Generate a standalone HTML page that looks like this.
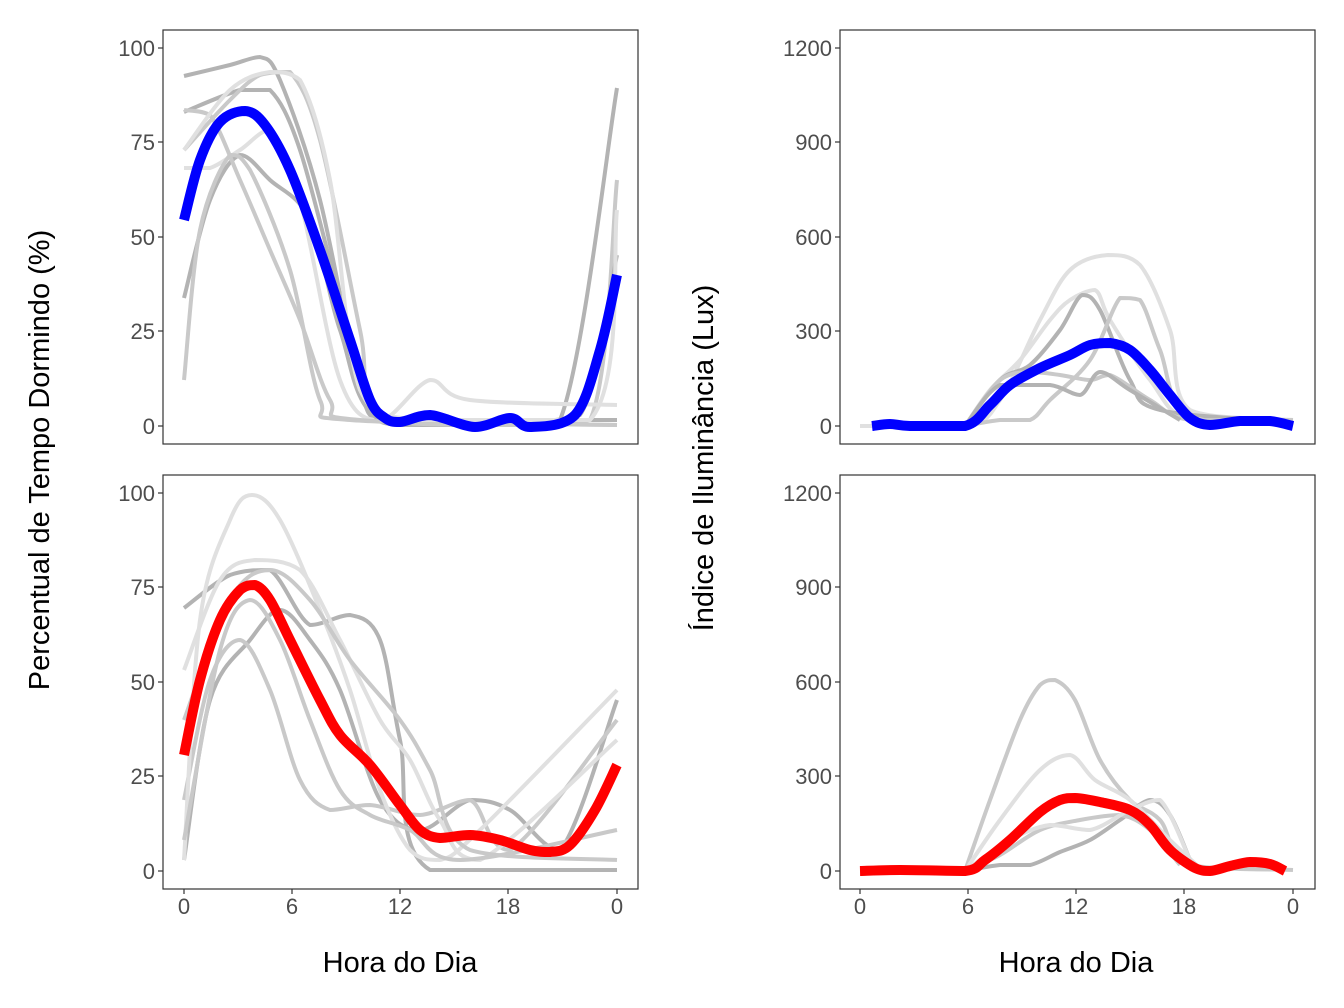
<!DOCTYPE html>
<html><head><meta charset="utf-8"><style>
html,body{margin:0;padding:0;background:#fff}
svg{display:block}
text{font-family:"Liberation Sans",sans-serif}
.tk{font-size:22px;fill:#4d4d4d}
.g{fill:none;stroke-width:4;stroke-linejoin:round;stroke-linecap:butt}
.a{stroke:#b3b3b3}.b{stroke:#c9c9c9}.c{stroke:#e0e0e0}
.m{fill:none;stroke-width:10;stroke-linejoin:round}
.box{fill:none;stroke:#333;stroke-width:1.2}
.tick{stroke:#333;stroke-width:1.2}
</style></head><body>
<svg id="s" width="1344" height="1008" viewBox="0 0 1344 1008">
<!-- TL -->
<g>
<polyline class="g a" points="184,76 230,65 260,57 280,80 320,200 360,390 380,420 430,420 617,420"/>
<polyline class="g a" points="184,112 240,90 270,90 300,150 340,300 370,410 400,425 480,425 560,420 617,88"/>
<polyline class="g b" points="184,150 230,100 260,75 290,72 320,140 360,330 380,420 500,425 590,420 617,180"/>
<polyline class="g c" points="184,168 210,168 240,150 270,130 300,200 340,380 380,420 430,380 470,400 617,405"/>
<polyline class="g a" points="184,298 210,200 240,155 270,180 310,220 340,330 380,420 500,422 580,415 617,255"/>
<polyline class="g b" points="184,380 200,230 230,155 250,170 290,270 320,400 350,420 617,425"/>
<polyline class="g b" points="184,110 210,115 240,180 270,250 300,320 330,400 360,420 617,425"/>
<polyline class="g c" points="184,150 230,90 270,72 300,80 330,180 360,390 420,420 590,420 617,210"/>
<polyline class="m" stroke="#0000ff" points="184,220 200,160 220,122 245,111 265,125 290,170 320,250 350,340 370,400 385,418 400,422 430,415 475,427 510,418 530,427 575,415 600,350 617,275"/>
<rect class="box" x="163" y="30" width="475" height="414"/>
</g>
<!-- BL -->
<g>
<polyline class="g a" points="184,608 230,575 270,570 310,625 350,615 380,640 400,740 430,870 617,870"/>
<polyline class="g a" points="184,860 210,700 250,640 280,610 310,640 340,690 380,800 420,830 470,800 510,810 560,850 617,700"/>
<polyline class="g b" points="184,800 210,680 240,640 270,690 300,780 330,810 370,805 420,815 470,800 510,850 617,720"/>
<polyline class="g c" points="184,860 200,620 230,520 252,495 280,520 320,610 350,690 380,790 410,850 440,860 480,830 617,690"/>
<polyline class="g c" points="184,670 220,580 255,560 300,570 340,640 380,720 410,760 440,820 480,860 617,740"/>
<polyline class="g b" points="184,840 220,650 250,600 280,640 310,720 340,790 370,815 410,830 460,860 617,830"/>
<polyline class="g b" points="184,720 230,600 270,570 310,600 350,660 400,720 430,770 470,850 617,860"/>
<polyline class="m" stroke="#ff0000" points="184,755 200,680 220,620 240,590 255,585 270,600 290,640 320,700 340,735 370,765 400,805 420,830 440,838 470,835 500,840 530,850 550,852 570,845 595,810 617,765"/>
<rect class="box" x="163" y="475" width="475" height="414"/>
</g>
<!-- TR -->
<g>
<polyline class="g c" points="860,426 965,426 1000,400 1040,320 1070,270 1108,255 1140,265 1170,330 1190,410 1293,420"/>
<polyline class="g c" points="965,426 990,390 1020,360 1050,320 1070,300 1095,290 1110,320 1150,380 1190,420 1293,420"/>
<polyline class="g a" points="965,426 1000,380 1030,365 1060,330 1082,295 1100,310 1130,380 1160,410 1293,422"/>
<polyline class="g b" points="965,426 1000,420 1030,420 1050,400 1090,360 1120,298 1140,300 1160,350 1190,420 1293,422"/>
<polyline class="g b" points="965,426 1000,380 1030,372 1060,375 1090,380 1110,375 1150,400 1190,420 1293,420"/>
<polyline class="g a" points="965,426 1000,385 1050,385 1080,395 1100,372 1130,390 1180,420"/>
<polyline class="m" stroke="#0000ff" points="872,426 890,424 910,426 965,426 990,405 1010,385 1040,368 1070,355 1090,345 1110,343 1130,350 1150,370 1170,395 1190,418 1210,425 1240,421 1270,421 1293,426"/>
<rect class="box" x="840" y="30" width="475" height="414"/>
</g>
<!-- BR -->
<g>
<polyline class="g b" points="965,871 990,800 1020,720 1040,685 1055,680 1075,700 1100,760 1130,800 1160,820 1190,865 1293,870"/>
<polyline class="g c" points="965,871 1000,820 1040,770 1070,755 1095,780 1130,800 1170,840 1200,868"/>
<polyline class="g a" points="965,871 1000,865 1030,865 1060,852 1090,840 1120,820 1150,800 1170,815 1190,860"/>
<polyline class="g b" points="965,871 1000,855 1040,830 1080,820 1120,815 1150,830 1180,865"/>
<polyline class="g c" points="965,871 1010,840 1050,825 1090,830 1130,810 1160,800 1190,860"/>
<polyline class="m" stroke="#ff0000" points="860,871 900,870 965,871 985,860 1010,840 1040,812 1060,800 1075,798 1100,802 1130,810 1150,825 1170,850 1195,868 1210,871 1230,866 1250,862 1270,864 1285,871"/>
<rect class="box" x="840" y="475" width="475" height="414"/>
</g>
<g class="tick">
<line x1="158" y1="48" x2="163" y2="48"/><line x1="158" y1="142" x2="163" y2="142"/><line x1="158" y1="237" x2="163" y2="237"/><line x1="158" y1="331" x2="163" y2="331"/><line x1="158" y1="426" x2="163" y2="426"/>
<line x1="158" y1="493" x2="163" y2="493"/><line x1="158" y1="587" x2="163" y2="587"/><line x1="158" y1="682" x2="163" y2="682"/><line x1="158" y1="776" x2="163" y2="776"/><line x1="158" y1="871" x2="163" y2="871"/>
<line x1="835" y1="48" x2="840" y2="48"/><line x1="835" y1="142" x2="840" y2="142"/><line x1="835" y1="237" x2="840" y2="237"/><line x1="835" y1="331" x2="840" y2="331"/><line x1="835" y1="426" x2="840" y2="426"/>
<line x1="835" y1="493" x2="840" y2="493"/><line x1="835" y1="587" x2="840" y2="587"/><line x1="835" y1="682" x2="840" y2="682"/><line x1="835" y1="776" x2="840" y2="776"/><line x1="835" y1="871" x2="840" y2="871"/>
<line x1="184" y1="889" x2="184" y2="894"/><line x1="292" y1="889" x2="292" y2="894"/><line x1="400" y1="889" x2="400" y2="894"/><line x1="508" y1="889" x2="508" y2="894"/><line x1="617" y1="889" x2="617" y2="894"/>
<line x1="860" y1="889" x2="860" y2="894"/><line x1="968" y1="889" x2="968" y2="894"/><line x1="1076" y1="889" x2="1076" y2="894"/><line x1="1184" y1="889" x2="1184" y2="894"/><line x1="1293" y1="889" x2="1293" y2="894"/>
</g>
<g class="tk" text-anchor="end">
<text x="155" y="56">100</text><text x="155" y="150">75</text><text x="155" y="245">50</text><text x="155" y="339">25</text><text x="155" y="434">0</text>
<text x="155" y="501">100</text><text x="155" y="595">75</text><text x="155" y="690">50</text><text x="155" y="784">25</text><text x="155" y="879">0</text>
<text x="832" y="56">1200</text><text x="832" y="150">900</text><text x="832" y="245">600</text><text x="832" y="339">300</text><text x="832" y="434">0</text>
<text x="832" y="501">1200</text><text x="832" y="595">900</text><text x="832" y="690">600</text><text x="832" y="784">300</text><text x="832" y="879">0</text>
</g>
<g class="tk" text-anchor="middle">
<text x="184" y="914">0</text><text x="292" y="914">6</text><text x="400" y="914">12</text><text x="508" y="914">18</text><text x="617" y="914">0</text>
<text x="860" y="914">0</text><text x="968" y="914">6</text><text x="1076" y="914">12</text><text x="1184" y="914">18</text><text x="1293" y="914">0</text>
</g>
<g font-size="29" fill="#000" text-anchor="middle">
<text x="400" y="972">Hora do Dia</text>
<text x="1076" y="972">Hora do Dia</text>
<text transform="translate(49,460) rotate(-90)">Percentual de Tempo Dormindo (%)</text>
<text transform="translate(713,458) rotate(-90)">Índice de Iluminância (Lux)</text>
</g>
</svg>
<script>
function cl(v,a,b){var lo=Math.min(a,b),hi=Math.max(a,b);return Math.max(lo,Math.min(hi,v));}
document.querySelectorAll('#s polyline').forEach(function(pl){
  var p=pl.getAttribute('points').trim().split(/\s+/).map(function(s){return s.split(',').map(Number);});
  var d='M'+p[0][0]+','+p[0][1];
  for(var i=0;i<p.length-1;i++){
    var p0=p[i-1]||p[i],p1=p[i],p2=p[i+1],p3=p[i+2]||p2;
    var c1x=p1[0]+(p2[0]-p0[0])/6,c1y=cl(p1[1]+(p2[1]-p0[1])/6,p1[1],p2[1]);
    var c2x=p2[0]-(p3[0]-p1[0])/6,c2y=cl(p2[1]-(p3[1]-p1[1])/6,p1[1],p2[1]);
    d+=' C'+c1x+','+c1y+' '+c2x+','+c2y+' '+p2[0]+','+p2[1];
  }
  var path=document.createElementNS('http://www.w3.org/2000/svg','path');
  path.setAttribute('d',d);
  path.setAttribute('class',pl.getAttribute('class'));
  if(pl.getAttribute('stroke'))path.setAttribute('stroke',pl.getAttribute('stroke'));
  pl.parentNode.replaceChild(path,pl);
});
</script>
</body></html>
